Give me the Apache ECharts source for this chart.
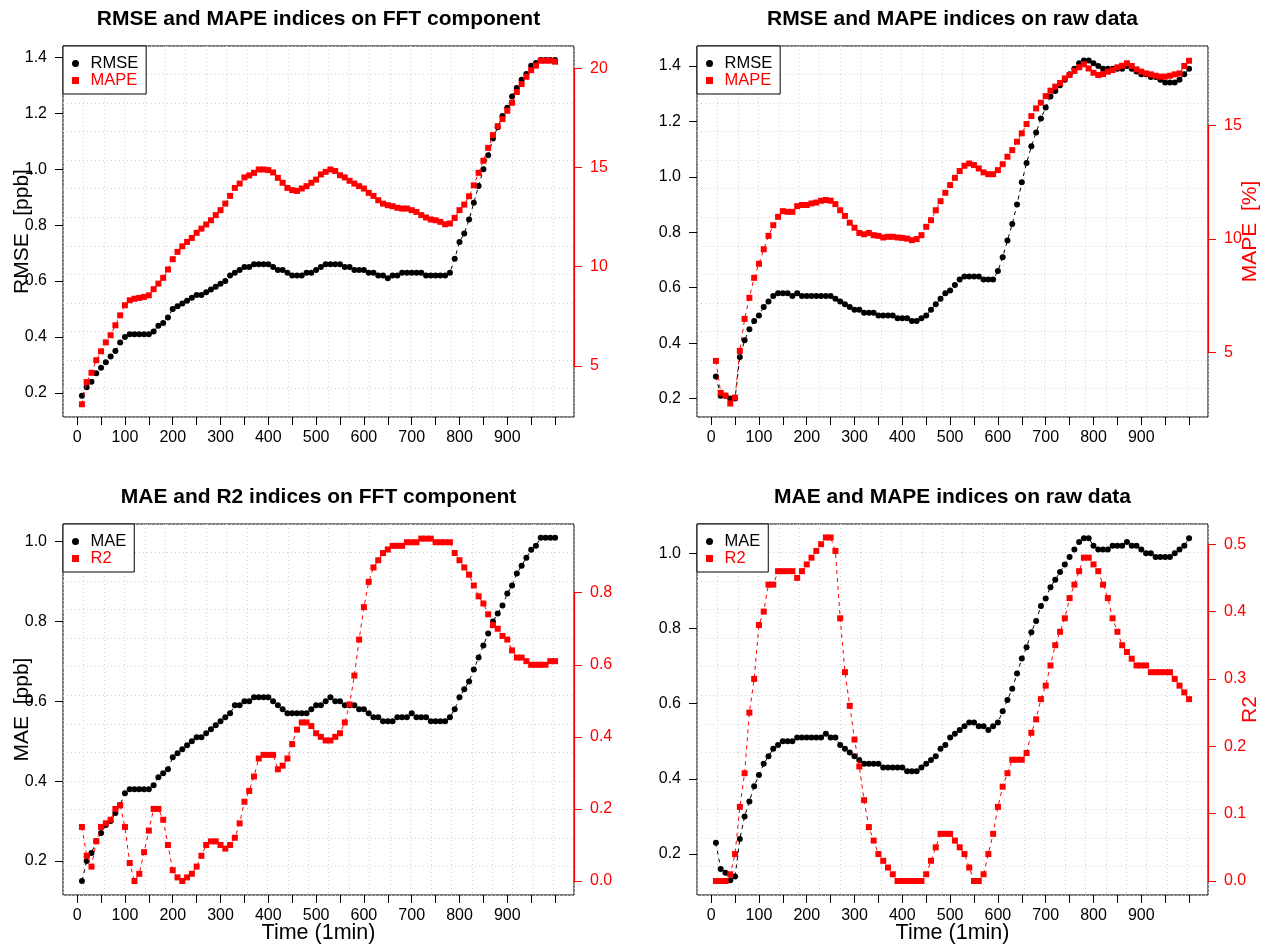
<!DOCTYPE html>
<html><head><meta charset="utf-8">
<script src="https://cdn.jsdelivr.net/npm/echarts@6/dist/echarts.min.js"></script>
<style>html,body{margin:0;padding:0;background:#fff}#c{width:1269px;height:948px}</style>
</head><body><div id="c"></div>
<script>
const time = [10,20,30,40,50,60,70,80,90,100,110,120,130,140,150,160,170,180,190,200,
 210,220,230,240,250,260,270,280,290,300,310,320,330,340,350,360,370,380,390,400,
 410,420,430,440,450,460,470,480,490,500,510,520,530,540,550,560,570,580,590,600,
 610,620,630,640,650,660,670,680,690,700,710,720,730,740,750,760,770,780,790,800,
 810,820,830,840,850,860,870,880,890,900,910,920,930,940,950,960,970,980,990,1000];

const fftRMSE = [0.19,0.22,0.24,0.27,0.29,0.31,0.33,0.35,0.38,0.40,
 0.41,0.41,0.41,0.41,0.41,0.42,0.44,0.45,0.47,0.50,
 0.51,0.52,0.53,0.54,0.55,0.55,0.56,0.57,0.58,0.59,
 0.60,0.62,0.63,0.64,0.65,0.65,0.66,0.66,0.66,0.66,
 0.65,0.64,0.64,0.63,0.62,0.62,0.62,0.63,0.63,0.64,
 0.65,0.66,0.66,0.66,0.66,0.65,0.65,0.64,0.64,0.64,
 0.63,0.63,0.62,0.62,0.61,0.62,0.62,0.63,0.63,0.63,
 0.63,0.63,0.62,0.62,0.62,0.62,0.62,0.63,0.68,0.74,
 0.77,0.82,0.88,0.94,1.00,1.05,1.11,1.15,1.19,1.22,
 1.26,1.29,1.32,1.34,1.37,1.38,1.39,1.39,1.39,1.39];
const fftMAPE = [3.07,4.19,4.66,5.29,5.74,6.19,6.55,7.05,7.55,8.06,
 8.31,8.39,8.43,8.48,8.56,8.87,9.15,9.44,9.86,10.38,
 10.75,11.03,11.25,11.45,11.71,11.92,12.13,12.34,12.60,12.85,
 13.18,13.57,13.97,14.19,14.50,14.60,14.73,14.90,14.90,14.87,
 14.75,14.48,14.23,13.97,13.86,13.82,13.94,14.06,14.23,14.39,
 14.65,14.78,14.90,14.82,14.61,14.50,14.33,14.19,14.06,13.94,
 13.72,13.57,13.35,13.18,13.10,13.05,12.97,12.93,12.93,12.85,
 12.76,12.60,12.48,12.38,12.34,12.26,12.14,12.18,12.46,12.85,
 13.13,13.55,14.10,14.73,15.34,15.99,16.63,17.08,17.44,17.86,
 18.26,18.80,19.20,19.57,19.90,20.13,20.38,20.38,20.38,20.33];
const rawRMSE = [0.28,0.21,0.21,0.20,0.20,0.35,0.41,0.45,0.48,0.50,
 0.53,0.55,0.57,0.58,0.58,0.58,0.57,0.58,0.57,0.57,
 0.57,0.57,0.57,0.57,0.57,0.56,0.55,0.54,0.53,0.52,
 0.52,0.51,0.51,0.51,0.50,0.50,0.50,0.50,0.49,0.49,
 0.49,0.48,0.48,0.49,0.50,0.52,0.54,0.56,0.58,0.59,
 0.61,0.63,0.64,0.64,0.64,0.64,0.63,0.63,0.63,0.66,
 0.71,0.77,0.83,0.90,0.98,1.05,1.11,1.16,1.21,1.25,
 1.29,1.31,1.33,1.35,1.37,1.39,1.41,1.42,1.42,1.41,
 1.40,1.39,1.39,1.39,1.39,1.39,1.40,1.39,1.38,1.37,
 1.37,1.36,1.36,1.35,1.34,1.34,1.34,1.35,1.37,1.39];
const rawMAPE = [4.62,3.21,3.09,2.74,3.00,5.06,6.47,7.40,8.28,8.90,
 9.54,10.13,10.60,10.97,11.22,11.19,11.19,11.44,11.49,11.49,
 11.56,11.60,11.68,11.71,11.68,11.53,11.26,11.01,10.71,10.49,
 10.26,10.20,10.26,10.16,10.13,10.06,10.09,10.09,10.06,10.04,
 10.01,9.94,9.99,10.16,10.53,10.82,11.26,11.66,12.03,12.37,
 12.69,12.99,13.22,13.32,13.25,13.10,12.93,12.85,12.85,13.03,
 13.29,13.62,13.91,14.28,14.65,15.06,15.41,15.75,16.00,16.29,
 16.53,16.71,16.87,17.07,17.22,17.40,17.56,17.69,17.51,17.32,
 17.22,17.26,17.37,17.44,17.56,17.63,17.74,17.62,17.47,17.37,
 17.29,17.25,17.19,17.15,17.15,17.19,17.25,17.29,17.62,17.85];
const fftMAE = [0.15,0.20,0.22,0.25,0.27,0.29,0.30,0.32,0.34,0.37,
 0.38,0.38,0.38,0.38,0.38,0.39,0.41,0.42,0.43,0.46,
 0.47,0.48,0.49,0.50,0.51,0.51,0.52,0.53,0.54,0.55,
 0.56,0.57,0.59,0.59,0.60,0.60,0.61,0.61,0.61,0.61,
 0.60,0.59,0.58,0.57,0.57,0.57,0.57,0.57,0.58,0.59,
 0.59,0.60,0.61,0.60,0.60,0.59,0.59,0.59,0.58,0.58,
 0.57,0.56,0.56,0.55,0.55,0.55,0.56,0.56,0.56,0.57,
 0.56,0.56,0.56,0.55,0.55,0.55,0.55,0.56,0.58,0.61,
 0.63,0.65,0.68,0.71,0.74,0.77,0.80,0.82,0.84,0.87,
 0.89,0.92,0.94,0.96,0.98,0.99,1.01,1.01,1.01,1.01];
const fftR2 = [0.15,0.07,0.04,0.11,0.15,0.16,0.17,0.20,0.21,0.15,
 0.05,0.00,0.02,0.08,0.14,0.20,0.20,0.17,0.10,0.03,
 0.01,0.00,0.01,0.02,0.04,0.07,0.10,0.11,0.11,0.10,
 0.09,0.10,0.12,0.16,0.22,0.25,0.29,0.34,0.35,0.35,
 0.35,0.31,0.32,0.34,0.38,0.42,0.44,0.44,0.43,0.41,
 0.40,0.39,0.39,0.40,0.41,0.44,0.49,0.57,0.67,0.76,
 0.83,0.87,0.89,0.91,0.92,0.93,0.93,0.93,0.94,0.94,
 0.94,0.95,0.95,0.95,0.94,0.94,0.94,0.94,0.91,0.89,
 0.87,0.85,0.82,0.79,0.77,0.74,0.71,0.70,0.68,0.67,
 0.64,0.62,0.62,0.61,0.60,0.60,0.60,0.60,0.61,0.61];
const rawMAE = [0.23,0.16,0.15,0.13,0.14,0.24,0.30,0.34,0.38,0.41,
 0.44,0.46,0.48,0.49,0.50,0.50,0.50,0.51,0.51,0.51,
 0.51,0.51,0.51,0.52,0.51,0.51,0.49,0.48,0.47,0.46,
 0.45,0.44,0.44,0.44,0.44,0.43,0.43,0.43,0.43,0.43,
 0.42,0.42,0.42,0.43,0.44,0.45,0.46,0.48,0.49,0.51,
 0.52,0.53,0.54,0.55,0.55,0.54,0.54,0.53,0.54,0.55,
 0.58,0.61,0.64,0.68,0.72,0.75,0.79,0.82,0.86,0.88,
 0.91,0.93,0.95,0.97,0.99,1.01,1.03,1.04,1.04,1.02,
 1.01,1.01,1.01,1.02,1.02,1.02,1.03,1.02,1.02,1.01,
 1.00,1.00,0.99,0.99,0.99,0.99,1.00,1.01,1.02,1.04];
const rawR2 = [0.00,0.00,0.00,0.01,0.04,0.11,0.16,0.25,0.30,0.38,
 0.40,0.44,0.44,0.46,0.46,0.46,0.46,0.45,0.46,0.47,
 0.48,0.49,0.50,0.51,0.51,0.49,0.39,0.31,0.26,0.21,
 0.17,0.12,0.08,0.06,0.04,0.03,0.02,0.01,0.00,0.00,
 0.00,0.00,0.00,0.00,0.01,0.03,0.05,0.07,0.07,0.07,
 0.06,0.05,0.04,0.02,0.00,0.00,0.01,0.04,0.07,0.11,
 0.14,0.16,0.18,0.18,0.18,0.19,0.22,0.24,0.27,0.29,
 0.32,0.35,0.37,0.39,0.42,0.44,0.46,0.48,0.48,0.47,
 0.46,0.44,0.42,0.39,0.37,0.35,0.34,0.33,0.32,0.32,
 0.32,0.31,0.31,0.31,0.31,0.31,0.30,0.29,0.28,0.27];

const xTicks = [0,50,100,150,200,250,300,350,400,450,500,550,600,650,700,750,800,850,900,950,1000];
const xLabels = [0,100,200,300,400,500,600,700,800,900];
const ticksRMSE = [0.2,0.4,0.6,0.8,1.0,1.2,1.4];
const ticksMAE = [0.2,0.4,0.6,0.8,1.0];
const ticksMAPEfft = [5,10,15,20];
const ticksMAPEraw = [5,10,15];
const ticksR2fft = [0.0,0.2,0.4,0.6,0.8];
const ticksR2raw = [0.0,0.1,0.2,0.3,0.4,0.5];

const panels = [
  {title:'RMSE and MAPE indices on FFT component', bName:'RMSE', rName:'MAPE', b:fftRMSE, r:fftMAPE,
   lMin:0.114, lMax:1.4405, lT:ticksRMSE, lDec:1, rMin:2.43, rMax:21.12, rT:ticksMAPEfft, rDec:0,
   lName:'RMSE   [ppb]', rName2:'', xName:''},
  {title:'RMSE and MAPE indices on raw data', bName:'RMSE', rName:'MAPE', b:rawRMSE, r:rawMAPE,
   lMin:0.1335, lMax:1.472, lT:ticksRMSE, lDec:1, rMin:2.146, rMax:18.5, rT:ticksMAPEraw, rDec:0,
   lName:'', rName2:'MAPE  [%]', xName:''},
  {title:'MAE and R2 indices on FFT component', bName:'MAE', rName:'R2', b:fftMAE, r:fftR2,
   lMin:0.1148, lMax:1.0443, lT:ticksMAE, lDec:1, rMin:-0.0388, rMax:0.9906, rT:ticksR2fft, rDec:1,
   lName:'MAE  [ppb]', rName2:'', xName:'Time (1min)'},
  {title:'MAE and MAPE indices on raw data', bName:'MAE', rName:'R2', b:rawMAE, r:rawR2,
   lMin:0.091, lMax:1.078, lT:ticksMAE, lDec:1, rMin:-0.0208, rMax:0.530, rT:ticksR2raw, rDec:1,
   lName:'', rName2:'R2', xName:'Time (1min)'}
];

const FONT = 'Liberation Sans, Arial, Helvetica, sans-serif';
const FS = 16;
const W = 511, H = 371;
const POS = [{left:63, top:46}, {left:697, top:46}, {left:63, top:524}, {left:697, top:524}];
const NX = 25, NY = 13;
const SQUARE = 'path://M0,0L10,0L10,10L0,10Z';

const grid = [], xAxis = [], yAxis = [], series = [], legend = [], title = [];
panels.forEach((p, g) => {
  const pos = POS[g];
  grid.push({left:pos.left, top:pos.top, width:W, height:H, show:true, borderColor:'#000', borderWidth:1, backgroundColor:'transparent'});
  title.push({text:p.title, left:pos.left + W/2, top:pos.top - 37, textAlign:'center', padding:0,
    textStyle:{fontFamily:FONT, fontSize:21, fontWeight:'bold', color:'#000'}});
  xAxis.push({gridIndex:g, type:'value', min:-29.6, max:1039.6, position:'bottom',
    axisLine:{show:false, onZero:false},
    axisTick:{show:true, customValues:xTicks, length:8, lineStyle:{color:'#000'}},
    axisLabel:{customValues:xLabels, fontFamily:FONT, fontSize:FS, color:'#000', margin:13},
    splitLine:{show:false},
    name:p.xName, nameLocation:'middle', nameGap:27, nameMoveOverlap:false,
    nameTextStyle:{fontFamily:FONT, fontSize:21.5, color:'#000'}});
  yAxis.push({gridIndex:g, type:'value', position:'left', min:p.lMin, max:p.lMax,
    axisLine:{show:false, onZero:false},
    axisTick:{show:true, customValues:p.lT, length:8, lineStyle:{color:'#000'}},
    axisLabel:{customValues:p.lT, fontFamily:FONT, fontSize:FS, color:'#000', margin:16,
      formatter:(v)=>v.toFixed(p.lDec)},
    splitLine:{show:false},
    name:p.lName, nameLocation:'middle', nameRotate:90, nameGap:30, nameMoveOverlap:false,
    nameTextStyle:{fontFamily:FONT, fontSize:21, color:'#000'}});
  yAxis.push({gridIndex:g, type:'value', position:'right', min:p.rMin, max:p.rMax,
    axisLine:{show:false, onZero:false},
    axisTick:{show:true, customValues:p.rT, length:8, lineStyle:{color:'#ff0000'}},
    axisLabel:{customValues:p.rT, fontFamily:FONT, fontSize:FS, color:'#ff0000', margin:16,
      formatter:(v)=>v.toFixed(p.rDec)},
    splitLine:{show:false},
    name:p.rName2, nameLocation:'middle', nameRotate:90, nameGap:32, nameMoveOverlap:false,
    nameTextStyle:{fontFamily:FONT, fontSize:21, color:'#ff0000'}});
  series.push({name:p.bName, type:'line', xAxisIndex:g, yAxisIndex:2*g,
    data:time.map((t,i)=>[t, p.b[i]]), symbol:'circle', symbolSize:6, showAllSymbol:true,
    itemStyle:{color:'#000'}, lineStyle:{color:'#000', width:1, type:[4,4]}, z:3, animation:false});
  series.push({name:p.rName, type:'line', xAxisIndex:g, yAxisIndex:2*g+1,
    data:time.map((t,i)=>[t, p.r[i]]), symbol:'rect', symbolSize:6, showAllSymbol:true,
    itemStyle:{color:'#ff0000'}, lineStyle:{color:'#ff0000', width:1, type:[4,4]}, z:4, animation:false});
  legend.push({left:pos.left, top:pos.top, orient:'vertical', backgroundColor:'#fff',
    borderColor:'#000', borderWidth:1, borderRadius:0, padding:[9,8,5,9], itemGap:0,
    itemWidth:20, itemHeight:7, selectedMode:false, z:10, symbolKeepAspect:true,
    textStyle:{fontFamily:FONT, fontSize:16.5, lineHeight:16},
    data:[{name:p.bName, icon:'circle', textStyle:{color:'#000'}},
          {name:p.rName, icon:SQUARE, textStyle:{color:'#ff0000'}}]});
});
// helper axes for the dotted background grid (R grid(25, 13))
panels.forEach((p, g) => {
  xAxis.push({gridIndex:g, type:'value', min:0, max:NX, interval:1, show:true, position:'top',
    axisLine:{show:false, onZero:false}, axisTick:{show:false}, axisLabel:{show:false},
    splitLine:{show:true, lineStyle:{color:'#d3d3d3', width:1, type:[1,3]}}});
  yAxis.push({gridIndex:g, type:'value', min:0, max:NY, interval:1, show:true, position:'left',
    axisLine:{show:false, onZero:false}, axisTick:{show:false}, axisLabel:{show:false},
    splitLine:{show:true, lineStyle:{color:'#d3d3d3', width:1, type:[1,3]}}});
});

const chart = echarts.init(document.getElementById('c'));
chart.setOption({backgroundColor:'#fff', animation:false, title, grid, xAxis, yAxis, series, legend});

// red right-axis line, drawn between first and last tick like R's axis()
const gfx = [];
panels.forEach((p, g) => {
  const y1 = chart.convertToPixel({yAxisIndex:2*g+1}, p.rT[0]);
  const y2 = chart.convertToPixel({yAxisIndex:2*g+1}, p.rT[p.rT.length-1]);
  const x = POS[g].left + W + 0.5;
  gfx.push({type:'line', shape:{x1:x, y1:y1, x2:x, y2:y2}, style:{stroke:'#ff0000', lineWidth:1.2}, z:50});
});
chart.setOption({graphic:gfx});
</script></body></html>
